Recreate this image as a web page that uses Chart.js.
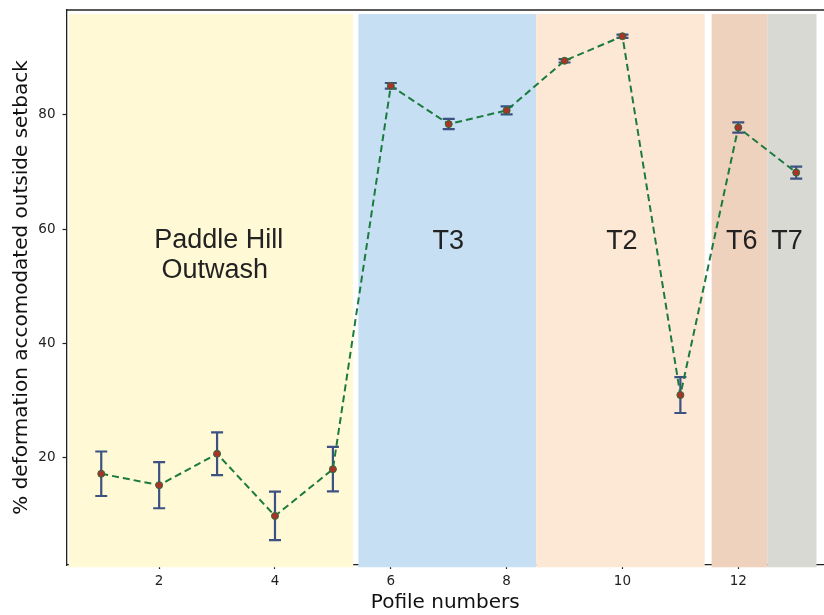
<!DOCTYPE html>
<html>
<head>
<meta charset="utf-8">
<script src="https://cdn.jsdelivr.net/npm/chart.js@4.4.1/dist/chart.umd.min.js"></script>
<style>
  html, body { margin: 0; padding: 0; background: #fff; overflow: hidden; }
  canvas { display: block; }
</style>
</head>
<body>
<canvas id="chart" width="824" height="615"></canvas>
<script>
// Profile data
const profiles = [1, 2, 3, 4, 5, 6, 7, 8, 9, 10, 11, 12, 13];
const deformation = [17.1, 15.1, 20.6, 9.7, 17.9, 85.1, 78.4, 80.8, 89.5, 93.8, 30.9, 77.8, 69.9];
const errors = [3.9, 4.05, 3.75, 4.25, 3.9, 0.5, 0.9, 0.7, 0.3, 0.3, 3.15, 0.9, 1.05];

// Terrace zones (x ranges in profile units)
const zoneStart = [0.44, 5.44, 8.51, 11.54, 12.5];
const zoneEnd = [5.35, 8.51, 11.42, 12.5, 13.35];
const zoneColors = ['#fff9d5', '#c6dff2', '#fde8d6', '#eed2bd', '#d8d9d3'];
const zoneBottom = 0.7;
const zoneTop = 97.7;

// Zone labels
const labelText = ['Paddle Hill', 'Outwash', 'T3', 'T2', 'T6', 'T7'];
const labelX = [3.03, 2.96, 6.99, 9.99, 12.06, 12.84];
const labelY = [56.7, 51.4, 56.5, 56.5, 56.5, 56.5];

const xTicks = [2, 4, 6, 8, 10, 12];
const yTicks = [20, 40, 60, 80];

const tickFont = { family: 'DejaVu Sans', size: 13.5 };
const titleFont = { family: 'DejaVu Sans', size: 20 };

// --- zones + error bars + frame ---
const decorPlugin = {
    id: 'decor',
    beforeDatasetsDraw(chart) {
        const { ctx, scales: { x, y } } = chart;
        ctx.save();
        zoneStart.forEach((s, i) => {
            const x0 = x.getPixelForValue(s);
            const x1 = x.getPixelForValue(zoneEnd[i]);
            const y0 = y.getPixelForValue(zoneTop);
            const y1 = y.getPixelForValue(zoneBottom);
            ctx.fillStyle = zoneColors[i];
            ctx.fillRect(x0, y0, x1 - x0, y1 - y0);
        });

        ctx.fillStyle = '#222';
        ctx.font = '27px "Liberation Sans", Arial, sans-serif';
        ctx.textAlign = 'center';
        ctx.textBaseline = 'alphabetic';
        labelText.forEach((t, i) => {
            ctx.fillText(t, x.getPixelForValue(labelX[i]), y.getPixelForValue(labelY[i]));
        });

        // error bars
        ctx.strokeStyle = '#3c5282';
        ctx.lineWidth = 2.2;
        const cap = 6;
        profiles.forEach((p, i) => {
            const px = x.getPixelForValue(p);
            const top = y.getPixelForValue(deformation[i] + errors[i]);
            const bot = y.getPixelForValue(deformation[i] - errors[i]);
            ctx.beginPath();
            ctx.moveTo(px, top); ctx.lineTo(px, bot);
            ctx.moveTo(px - cap, top); ctx.lineTo(px + cap, top);
            ctx.moveTo(px - cap, bot); ctx.lineTo(px + cap, bot);
            ctx.stroke();
        });
        ctx.restore();
    },
    afterDraw(chart) {
        const { ctx, chartArea } = chart;
        ctx.save();
        ctx.strokeStyle = '#222';
        ctx.lineWidth = 1.3;
        ctx.beginPath();
        ctx.moveTo(chartArea.left, chartArea.top);
        ctx.lineTo(chartArea.right, chartArea.top);
        ctx.stroke();
        ctx.restore();
    }
};

const ctx = document.getElementById('chart').getContext('2d');
new Chart(ctx, {
    type: 'line',
    data: {
        datasets: [{
            label: 'Deformation',
            data: profiles.map((p, i) => ({ x: p, y: deformation[i] })),
            borderColor: '#1b7a3e',
            borderWidth: 2,
            borderDash: [7, 4],
            tension: 0,
            pointRadius: 3.5,
            pointBackgroundColor: '#aa3328',
            pointBorderColor: '#2f6a3a',
            pointBorderWidth: 1
        }]
    },
    options: {
        responsive: false,
        animation: false,
        layout: { autoPadding: false, padding: { top: 10, right: 0, left: 0, bottom: 0 } },
        plugins: { legend: { display: false }, tooltip: { enabled: false } },
        scales: {
            x: {
                type: 'linear',
                min: 0.4,
                max: 13.48,
                afterBuildTicks: axis => { axis.ticks = xTicks.map(v => ({ value: v })); },
                afterFit: axis => { axis.height = 50; axis.paddingLeft = 0; axis.paddingRight = 0; },
                ticks: { color: '#222', font: tickFont, padding: 4 },
                grid: { drawOnChartArea: false, drawTicks: true, tickLength: 4, color: '#222', tickWidth: 1.2 },
                border: { display: true, color: '#222', width: 1.3 },
                title: { display: true, text: 'Pofile numbers', color: '#111', font: titleFont, padding: { top: 0, bottom: 0 } }
            },
            y: {
                min: 1.1,
                max: 98.4,
                afterBuildTicks: axis => { axis.ticks = yTicks.map(v => ({ value: v })); },
                afterFit: axis => { axis.width = 66.5; axis.paddingTop = 0; axis.paddingBottom = 0; },
                ticks: { color: '#222', font: tickFont, padding: 7 },
                grid: { drawOnChartArea: false, drawTicks: true, tickLength: 4, color: '#222', tickWidth: 1.2 },
                border: { display: true, color: '#222', width: 1.3 },
                title: { display: true, text: '% deformation accomodated outside setback', color: '#111', font: titleFont, padding: { top: 10, bottom: 0 } }
            }
        }
    },
    plugins: [decorPlugin]
});
</script>
</body>
</html>
